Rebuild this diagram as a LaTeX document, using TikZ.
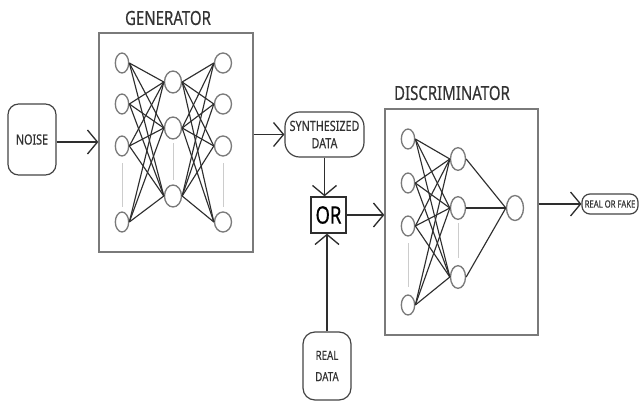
\documentclass[tikz,border=0pt]{standalone}
\usepackage{fontspec}
\setmainfont[FakeStretch=0.77,FakeBold=0.4]{Noto Sans}
\usetikzlibrary{shapes.geometric,arrows.meta,calc}
\definecolor{boxgray}{HTML}{7A7A7A}
\definecolor{edgedark}{HTML}{2E2E2E}
\definecolor{txt}{HTML}{333333}
\tikzset{
  frame/.style={draw=boxgray,line width=1pt,fill=white},
  lbl/.style={draw=edgedark!90,line width=0.9pt,rounded corners=8pt,align=center,text=txt,inner sep=0pt,font=\fontsize{10.5}{12}\selectfont},
  neuron/.style={ellipse,draw=boxgray,line width=1pt,fill=white,inner sep=0pt},
  edge/.style={draw=edgedark,line width=0.85pt},
  dots/.style={draw=black!20,line width=0.6pt},
  flow/.style={draw=edgedark,line width=1.3pt,-{Straight Barb[length=7.5pt,width=18pt,line width=1pt]}},
  title/.style={text=txt,font=\fontsize{14.6}{16}\selectfont,inner sep=0pt}
}
\begin{document}
\begin{tikzpicture}[x=0.75pt,y=-0.75pt]
\useasboundingbox (0,0) rectangle (640,407);
% titles
\node[title] (gtitle) at (168,18) {GENERATOR};
\node[title] (dtitle) at (452,93) {DISCRIMINATOR};
% boxes
\node[frame,minimum width=115.5pt,minimum height=164.25pt,inner sep=0pt] (gen) at (176,142.5) {};
\node[frame,minimum width=114.75pt,minimum height=169.5pt,inner sep=0pt] (disc) at (461.5,222) {};
% generator neurons
\foreach \i/\y in {1/63,2/104,3/146,4/222}{
  \node[neuron,minimum width=10pt,minimum height=15pt] (gi\i) at (122,\y) {};
  \node[neuron,minimum width=12.75pt,minimum height=15pt] (go\i) at (223,\y) {};
}
\foreach \i/\y in {1/82,2/128,3/196}{
  \node[neuron,minimum width=12.75pt,minimum height=16.5pt] (gh\i) at (173,\y) {};
}
\foreach \a in {1,2,3,4}{
  \foreach \b in {1,2,3}{
    \draw[edge] (gi\a.east) -- (gh\b.west);
    \draw[edge] (gh\b.east) -- (go\a.west);
  }
}
\draw[dots] (122,163) -- (122,207);
\draw[dots] (173,143) -- (173,180);
\draw[dots] (223,163) -- (223,207);
% discriminator neurons
\foreach \i/\y in {1/139,2/183,3/226,4/305}{
  \node[neuron,minimum width=10pt,minimum height=15pt] (di\i) at (408,\y) {};
}
\foreach \i/\y in {1/159,2/208,3/277}{
  \node[neuron,minimum width=11.25pt,minimum height=17pt] (dh\i) at (458,\y) {};
}
\node[neuron,minimum width=12.75pt,minimum height=18.75pt] (dout) at (515,208) {};
\foreach \a in {1,2,3,4}{
  \foreach \b in {1,2,3}{
    \draw[edge] (di\a.east) -- (dh\b.west);
  }
}
\foreach \b in {1,2,3}{ \draw[edge] (dh\b.east) -- (dout.west); }
\draw[dots] (408,243) -- (408,287);
\draw[dots] (458,223) -- (458,258);
% labels
\node[lbl,minimum width=36pt,minimum height=53.25pt] (noise) at (32,139.5) {NOISE};
\node[lbl,rounded corners=11pt,minimum width=59.25pt,minimum height=33.75pt] (synth) at (324.5,134.5) {SYNTHESIZED\\[1pt]DATA};
\node[draw=edgedark,line width=1pt,fill=white,minimum width=26.25pt,minimum height=27pt,inner sep=0pt,text=black,font=\fontsize{18}{20}\selectfont] (or) at (328.5,215) {OR};
\node[lbl,rounded corners=9pt,minimum width=36pt,minimum height=51pt,font=\fontsize{9.5}{16}\selectfont] (real) at (327,366) {REAL\\DATA};
\node[lbl,rounded corners=6pt,minimum width=42pt,minimum height=15pt,font=\fontsize{7.5}{9}\selectfont] (rof) at (610,204) {REAL OR FAKE};
% flows
\draw[flow] ($(noise.east)+(0,2.5)$) -- ($(noise.east -| gen.west)+(0,2.5)$);
\draw[flow] (gen.east |- synth.west) -- (synth.west);
\draw[flow] (synth.south) -- (synth.south |- or.north);
\draw[flow] (or.east) -- (or.east -| disc.west);
\draw[flow] (real.north) -- (real.north |- or.south);
\draw[flow] (disc.east |- rof.west) -- (rof.west);
\end{tikzpicture}
\end{document}
